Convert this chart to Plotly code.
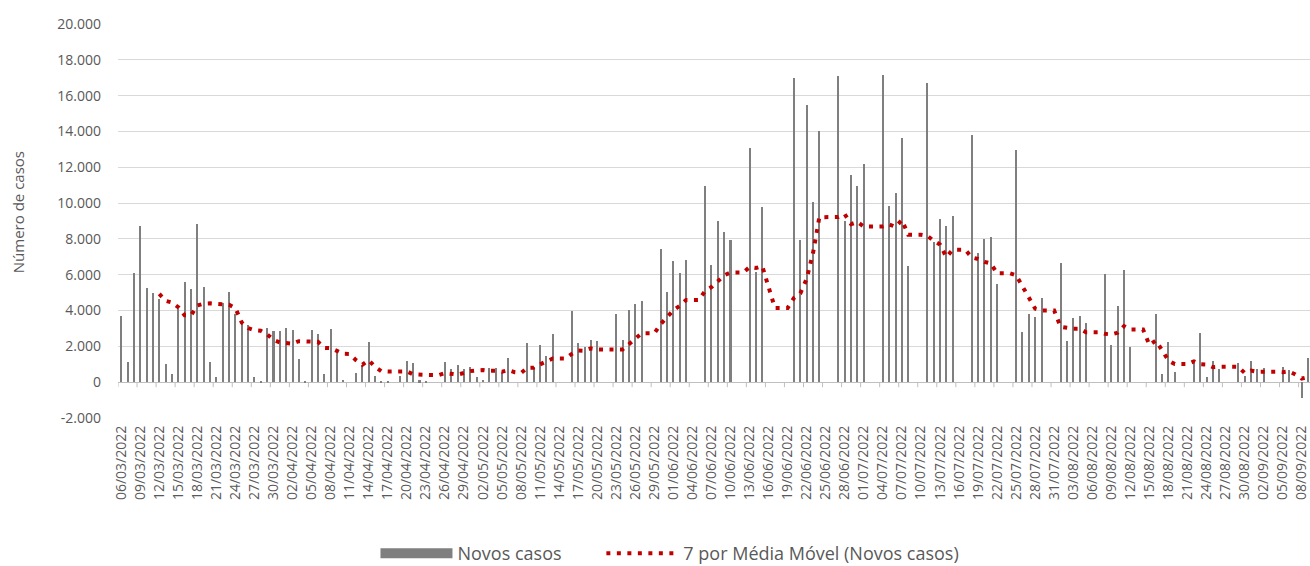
import pandas as pd
import plotly.graph_objects as go

# Categories: one per day, 06/03/2022 onwards
datas = pd.date_range("2022-03-06", periods=188, freq="D").strftime("%d/%m/%Y").tolist()

# Daily new cases
novos_casos = [
    3700, 1120, 6120, 8740, 5250, 4970, 4630, 990, 450, 4260,
    5600, 5190, 8850, 5340, 1120, 280, 4420, 5060, 3830, 3270,
    3170, 300, 60, 3020, 2860, 2860, 3040, 2910, 1290, 60,
    2920, 2700, 470, 2950, 1830, 150, 0, 520, 900, 2230,
    340, 90, 60, 0, 340, 1180, 1050, 110, 90, 0,
    0, 1120, 710, 950, 710, 840, 280, 150, 790, 790,
    520, 1360, 0, 0, 2180, 830, 2080, 1460, 2690, 0,
    0, 3980, 2180, 1990, 2360, 2280, 0, 0, 3790, 2370,
    4050, 4340, 4540, 0, 0, 7410, 5040, 6780, 6070, 6830,
    0, 0, 10960, 6530, 9020, 8400, 7950, 0, 0, 13070,
    6180, 9760, 0, 0, 0, 0, 16990, 7950, 15460, 10080,
    14000, 0, 0, 17080, 9020, 11580, 10960, 12190, 0, 0,
    17140, 9820, 10590, 13650, 6460, 0, 0, 16730, 7840, 9130,
    8740, 9300, 0, 0, 13780, 7210, 8010, 8100, 5470, 0,
    0, 12990, 2800, 3830, 3660, 4700, 0, 0, 6670, 2300,
    3570, 3700, 3290, 0, 0, 6030, 2070, 4240, 6270, 1960,
    0, 0, 0, 3810, 430, 2270, 560, 0, 0, 1070,
    2730, 300, 1210, 730, 0, 0, 1050, 350, 1170, 740,
    800, 0, 0, 840, 670, 0, -900, 1370,
]

# 7-day moving average series (as in the chart's trendline)
media_movel = pd.Series(novos_casos, dtype=float).rolling(7).mean().tolist()

y_ticks = [-2000, 0, 2000, 4000, 6000, 8000, 10000, 12000, 14000, 16000, 18000, 20000]
y_tick_labels = ["-2.000", "0", "2.000", "4.000", "6.000", "8.000", "10.000",
                 "12.000", "14.000", "16.000", "18.000", "20.000"]

posicoes = list(range(len(datas)))
label_step = 3
x_tickvals = posicoes[::label_step]
x_ticktext = datas[::label_step]
axis_tickvals = [p - 0.5 for p in posicoes[::label_step]]

GREY_TXT = "#595959"
BAR_GREY = "#7F7F7F"
RED = "#C00000"
AXIS_GREY = "#BFBFBF"
FONT = "Open Sans"

fig = go.Figure()
fig.add_trace(go.Bar(
    x=posicoes, y=novos_casos, name="Novos casos", showlegend=False,
    marker=dict(color=BAR_GREY, line=dict(width=0)),
    width=0.32,
))
# legend proxy for the bar series (wide grey block like the original legend key)
fig.add_trace(go.Scatter(
    x=[None], y=[None], name="Novos casos", mode="lines", legend="legend",
    line=dict(color=BAR_GREY, width=10), showlegend=True, hoverinfo="skip",
))
fig.add_trace(go.Scatter(
    x=posicoes, y=media_movel, name="7 por Média Móvel (Novos casos)",
    mode="lines", legend="legend2",
    line=dict(color=RED, width=4, dash="4px,6.5px"),
))

ymin, ymax = -2000, 20000
xrange = [-0.5, 187.3]

# small tick marks hanging from the category axis line at y = 0
tick_shapes = [
    dict(type="line", xref="x", yref="y", x0=v, x1=v, ysizemode="pixel", yanchor=0,
         y0=0, y1=-5, line=dict(color=AXIS_GREY, width=1), layer="above")
    for v in axis_tickvals
]

legend_common = dict(orientation="h", xanchor="left", y=-0.344, yanchor="middle",
                     font=dict(size=18, color=GREY_TXT), itemwidth=72,
                     bgcolor="rgba(0,0,0,0)")

fig.update_layout(
    width=1310, height=566,
    margin=dict(l=118, r=0, t=24, b=148, autoexpand=False),
    paper_bgcolor="white", plot_bgcolor="white",
    font=dict(family=FONT, color=GREY_TXT, size=14),
    bargap=0,
    showlegend=True,
    legend=dict(x=0.216, **legend_common),
    legend2=dict(x=0.4055, **legend_common),
    xaxis=dict(range=xrange, tickmode="array", tickvals=x_tickvals, ticktext=x_ticktext,
               tickangle=-90, showgrid=False, zeroline=False, showline=False, ticks="",
               automargin=False, ticklabelstandoff=4, ticklabeloverflow="allow",
               tickfont=dict(size=14, color=GREY_TXT)),
    yaxis=dict(range=[ymin, ymax], tickmode="array", tickvals=y_ticks, ticktext=y_tick_labels,
               showgrid=True, gridcolor="#D9D9D9", gridwidth=1,
               zeroline=True, zerolinecolor=AXIS_GREY, zerolinewidth=1,
               showline=False, ticks="", automargin=False, ticklabelstandoff=16,
               tickfont=dict(size=14, color=GREY_TXT)),
    shapes=tick_shapes,
    annotations=[dict(text="Número de casos", textangle=-90, xref="paper", yref="paper",
                      x=-0.084, y=0.522, xanchor="center", yanchor="middle", showarrow=False,
                      font=dict(size=15, color=GREY_TXT))],
)

fig.write_html("out.html", config={"displayModeBar": False},
               post_script="document.body.style.margin='0';document.body.style.overflow='hidden';")
